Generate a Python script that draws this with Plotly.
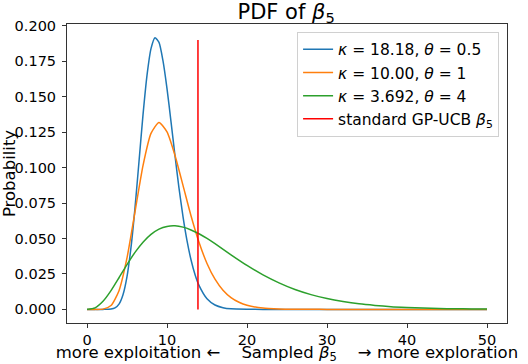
import plotly.graph_objects as go

# gamma PDFs
x_k18 = [0, 1, 2, 3, 3.5, 4, 4.5, 5, 5.5, 6, 6.5, 7, 7.5, 8, 8.5, 9, 9.5, 10, 10.5, 11,
         11.5, 12, 12.5, 13, 13.5, 14, 15, 16, 17, 18, 20, 22, 25, 30, 40, 50]
y_k18 = [0, 0, 0.0000014, 0.00019, 0.0010, 0.0037, 0.0103, 0.0231, 0.0437, 0.0716, 0.1043,
         0.1371, 0.1650, 0.1838, 0.1915, 0.1882, 0.1752, 0.1557, 0.1324, 0.1083, 0.0855,
         0.0654, 0.0485, 0.0350, 0.0246, 0.0169, 0.0075, 0.0031, 0.0012, 0.0004, 0.00005,
         0.000005, 0, 0, 0, 0]

x_k10 = [0, 1, 2, 3, 4, 5, 6, 7, 8, 9, 10, 11, 12, 13, 14, 15, 16, 17, 18, 19, 20,
         22, 24, 26, 28, 30, 35, 40, 45, 50]
y_k10 = [0, 0.000001, 0.00019, 0.0027, 0.0132, 0.0363, 0.0688, 0.1014, 0.1241, 0.1318,
         0.1251, 0.1085, 0.0874, 0.0660, 0.0473, 0.0324, 0.0213, 0.0135, 0.0083, 0.0050,
         0.0029, 0.0009, 0.0003, 0.00008, 0.00002, 0.000005, 0, 0, 0, 0]

x_k3 = [0, 1, 2, 3, 4, 5, 6, 7, 8, 9, 10, 11, 12, 13, 14, 15, 16, 18, 20, 22, 24, 26,
        28, 30, 32, 34, 36, 38, 40, 42, 44, 46, 48, 50]
y_k3 = [0, 0.0011, 0.0057, 0.0132, 0.0223, 0.0316, 0.0402, 0.0474, 0.0529, 0.0566, 0.0585,
        0.0589, 0.0580, 0.0560, 0.0533, 0.0500, 0.0463, 0.0385, 0.0310, 0.0243, 0.0187,
        0.0140, 0.0104, 0.0076, 0.0055, 0.0039, 0.0028, 0.0019, 0.00135, 0.00094, 0.00064,
        0.00044, 0.0003, 0.0002]

beta_std_x = [13.87, 13.87]
beta_std_y = [0, 0.19]

names = ['<i>κ</i> = 18.18, <i>θ</i> = 0.5',
         '<i>κ</i> = 10.00, <i>θ</i> = 1',
         '<i>κ</i> = 3.692, <i>θ</i> = 4',
         'standard GP-UCB <i>β</i><sub>5</sub>']
colors = ['#1f77b4', '#ff7f0e', '#2ca02c', 'red']

fig = go.Figure()
for xs, ys, name, c in zip([x_k18, x_k10, x_k3, beta_std_x],
                           [y_k18, y_k10, y_k3, beta_std_y], names, colors):
    fig.add_trace(go.Scatter(x=xs, y=ys, mode='lines', name=name,
                             line=dict(color=c, width=1.5, shape='spline', smoothing=0.6)))

sp = '\u00a0' * 4
fig.update_layout(
    width=528, height=364,
    font=dict(family='DejaVu Sans', color='black'),
    plot_bgcolor='white', paper_bgcolor='white',
    margin=dict(l=67, r=21, t=24, b=41, autoexpand=False),
    title=dict(text='PDF of <i>β</i><sub>5</sub>', x=0.542, xanchor='center',
               y=0.968, yref='container', yanchor='middle', font=dict(size=21)),
    xaxis=dict(range=[-2.5, 52.5], tickvals=[0, 10, 20, 30, 40, 50], automargin=False,
               showline=True, mirror=True, linecolor='#333', linewidth=1,
               ticks='outside', ticklen=4, tickcolor='#333', showgrid=False, zeroline=False,
               tickfont=dict(size=14.5),
               title=dict(text='more exploitation ←' + sp + 'Sampled <i>β</i><sub>5</sub>' + sp + '→ more exploration',
                          font=dict(size=16.5))),
    yaxis=dict(range=[-0.0096, 0.2012], tickvals=[0, 0.025, 0.05, 0.075, 0.1, 0.125, 0.15, 0.175, 0.2],
               tickformat='.3f', showline=True, mirror=True, linecolor='#333', linewidth=1,
               ticks='outside', ticklen=4, tickcolor='#333', showgrid=False, zeroline=False,
               tickfont=dict(size=14.5), automargin=False, ticklabelstandoff=3,
               title=dict(text='Probability', font=dict(size=16.5))),
    legend=dict(x=0.982, y=0.974, xanchor='right', yanchor='top',
                bordercolor='#d0d0d0', borderwidth=1, bgcolor='white',
                font=dict(size=15.5), tracegroupgap=0),
)

# the page body has a default 8px margin; remove it so the figure fills the window
fig.write_html("out.html", config={'displayModeBar': False},
               post_script="document.body.style.margin='0';")
